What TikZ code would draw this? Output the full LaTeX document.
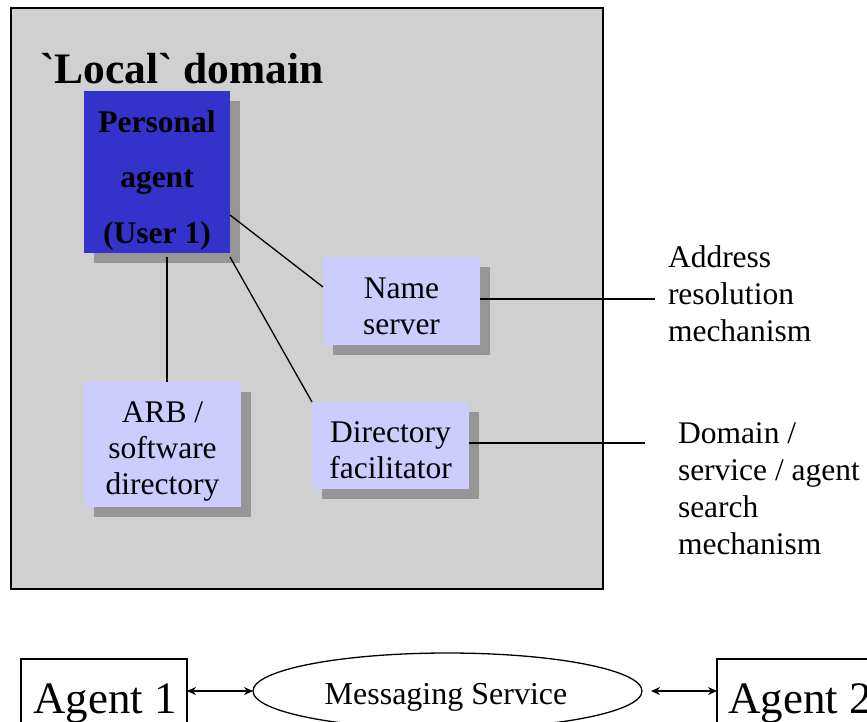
\documentclass[tikz,border=0pt]{standalone}
\usepackage{fontspec}
\setmainfont{Liberation Serif}
\usetikzlibrary{shapes.geometric,shadows,arrows.meta}
\definecolor{domgray}{RGB}{208,208,208}
\definecolor{shgray}{RGB}{150,150,150}
\definecolor{agblue}{RGB}{51,51,204}
\definecolor{lav}{RGB}{204,204,255}
\begin{document}
\begin{tikzpicture}[x=1pt,y=-1pt,
  every node/.style={inner sep=0pt, outer sep=0pt},
  txt/.style={anchor=base, font=\fontsize{31.5}{37}\selectfont},
  btxt/.style={anchor=base, font=\fontsize{31.5}{37}\selectfont\bfseries},
  ltxt/.style={anchor=base west, font=\fontsize{31.5}{37}\selectfont},
  shbox/.style={anchor=north west, fill=#1,
    drop shadow={shadow xshift=10pt, shadow yshift=-10pt, fill=shgray, opacity=1}},
  conn/.style={line width=1.3pt},
  dbl/.style={line width=1.3pt, {Stealth[length=9pt,width=8pt]}-{Stealth[length=9pt,width=8pt]}}
]
\useasboundingbox (0,0) rectangle (867,721);
\clip (0,0) rectangle (867,721);
\fill[white] (0,0) rectangle (867,721);

% local domain
\node[draw, line width=1.4pt, fill=domgray, anchor=north west,
  minimum width=592pt, minimum height=581pt] (dom) at (11,8) {};
\node[anchor=base west, font=\fontsize{43.5}{48}\selectfont\bfseries] (title) at (40,83)
  {\textasciigrave Local\textasciigrave{} domain};

% boxes
\node[shbox=agblue, minimum width=146pt, minimum height=162pt] (pa) at (84,91) {};
\node[shbox=lav, minimum width=157pt, minimum height=88pt] (ns) at (323,257) {};
\node[shbox=lav, minimum width=157pt, minimum height=125pt] (arb) at (84,382) {};
\node[shbox=lav, minimum width=157pt, minimum height=87pt] (df) at (312,402) {};

% box texts
\node[btxt] (pa1) at (157,132) {Personal};
\node[btxt] (pa2) at (157,187) {agent};
\node[btxt] (pa3) at (157,243) {(User 1)};
\node[txt] (ns1) at (401.5,298) {Name};
\node[txt] (ns2) at (401.5,334) {server};
\node[txt] (arb1) at (162.5,422) {ARB /};
\node[txt] (arb2) at (162.5,458) {software};
\node[txt] (arb3) at (162.5,494) {directory};
\node[txt] (df1) at (390.5,442) {Directory};
\node[txt] (df2) at (390.5,478) {facilitator};

% connectors inside
\draw[conn] ([yshift=-43pt]pa.east) -- ([yshift=14pt]ns.west);
\draw[conn] ([yshift=-4pt]pa.south east) -- (df.north west);
\coordinate (v0) at ([xshift=10pt,yshift=-4pt]pa.south);
\draw[conn] (v0) -- (v0 |- arb.north);

% side labels
\coordinate (nsend) at (655,299);
\draw[conn] (ns.east |- nsend) -- (nsend);
\coordinate (dfend) at (645,443);
\draw[conn] (df.east |- dfend) -- (dfend);
\node[ltxt] (ad1) at (668,267) {Address};
\node[ltxt] (ad2) at (668,304) {resolution};
\node[ltxt] (ad3) at (668,341) {mechanism};
\node[ltxt] (dm1) at (678,443) {Domain /};
\node[ltxt] (dm2) at (678,480) {service / agent};
\node[ltxt] (dm3) at (678,517) {search};
\node[ltxt] (dm4) at (678,554) {mechanism};

% messaging
\node[draw, line width=1.2pt, anchor=north west, minimum width=166pt, minimum height=100pt] (a1) at (21,659) {};
\node[anchor=base, font=\fontsize{45}{50}\selectfont] (a1t) at (105,713) {Agent 1};
\node[draw, line width=1.2pt, anchor=north west, minimum width=166pt, minimum height=100pt] (a2) at (717,659) {};
\node[anchor=base, font=\fontsize{45}{50}\selectfont] (a2t) at (800,713) {Agent 2};
\node[ellipse, draw, line width=1.3pt, minimum width=389pt, minimum height=76pt] (ms) at (447.5,691) {};
\node[anchor=base, font=\fontsize{32}{36}\selectfont] (mst) at (446,704) {Messaging Service};
\draw[dbl] (a1.east |- ms.west) -- (ms.west);
\draw[dbl, shorten <=9pt] (ms.east) -- (a2.west |- ms.east);
\end{tikzpicture}
\end{document}
